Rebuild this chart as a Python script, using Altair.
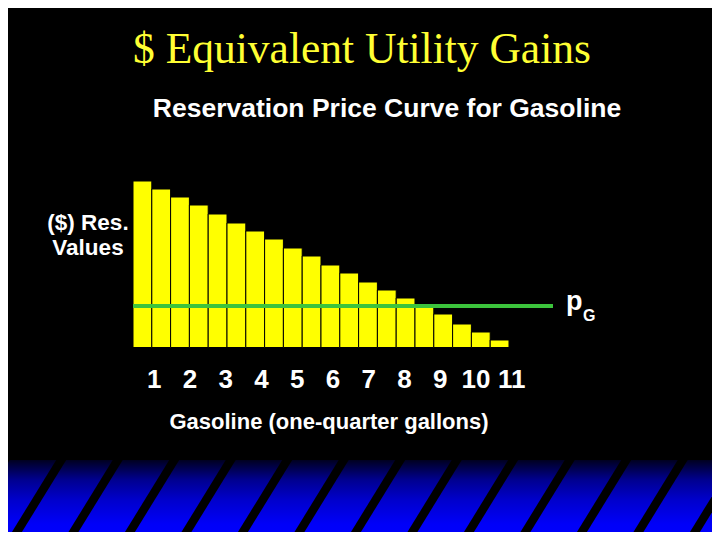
import altair as alt
import pandas as pd

# ---- data ----
res_values = [166.5, 158.5, 150.5, 142.5, 133.5, 124.5, 116.5, 108.5, 99.5, 91.5,
              82.5, 74.5, 65.5, 57.5, 49.5, 41.5, 33.5, 23.5, 15.5, 7.5]
price_g = 41.5
quantity_labels = ["1", "2", "3", "4", "5", "6", "7", "8", "9", "10", "11"]
title_text = "$ Equivalent Utility Gains"
subtitle_text = "Reservation Price Curve for Gasoline"
y_label_lines = ["($) Res.", "Values"]
x_title = "Gasoline (one-quarter gallons)"
stripe_centers = [-4.5, 52, 108.5, 165, 221.5, 278, 334.5, 391, 447.5, 504,
                  560.5, 617, 673.5, 730]

W, H = 704, 524
SANS = "Liberation Sans"
SERIF = "Liberation Serif"

one = pd.DataFrame({"a": [0]})

# ---- decorative band ----
band = alt.Chart(one).mark_rect(
    color=alt.Gradient(
        gradient="linear",
        stops=[
            alt.GradientStop(color="#000020", offset=0),
            alt.GradientStop(color="#000090", offset=0.25),
            alt.GradientStop(color="#0000cc", offset=0.5),
            alt.GradientStop(color="#0000f8", offset=0.8),
            alt.GradientStop(color="#0000ff", offset=1),
        ],
        x1=0, x2=0, y1=0, y2=1,
    )
).encode(x=alt.value(0), x2=alt.value(W), y=alt.value(452), y2=alt.value(532))

stripes = pd.DataFrame({"c": stripe_centers})
stripes["xa"] = stripes["c"] + 8.6
stripes["xb"] = stripes["c"] - 48
stripes["ya"] = 440
stripes["yb"] = 532
px = alt.Scale(domain=[0, W], nice=False, zero=False)
py = alt.Scale(domain=[0, H], nice=False, zero=False, reverse=True)
stripe_layer = alt.Chart(stripes).mark_rule(color="black", strokeWidth=8.5).encode(
    x=alt.X("xa:Q", scale=px, axis=None), x2="xb:Q",
    y=alt.Y("ya:Q", scale=py, axis=None), y2="yb:Q",
)

# ---- bars ----
bars = pd.DataFrame({"start": list(range(len(res_values))), "value": res_values})
bars["end"] = bars["start"] + 1
bar_x = alt.Scale(domain=[-6.649, 30.798], nice=False, zero=False)
bar_y = alt.Scale(domain=[-184.5, 339.5], nice=False, zero=False)

bar_layer = alt.Chart(bars).mark_bar(color="#ffff00", stroke="black", strokeWidth=1).encode(
    x=alt.X("start:Q", scale=bar_x, axis=None), x2="end:Q",
    y=alt.Y("value:Q", scale=bar_y, axis=None), y2=alt.datum(0),
)

rule_df = pd.DataFrame({"p": [price_g], "x0": [0], "x1": [22.34]})
rule_layer = alt.Chart(rule_df).mark_rule(color="#3cc43c", strokeWidth=4).encode(
    x=alt.X("x0:Q", scale=bar_x, axis=None), x2="x1:Q",
    y=alt.Y("p:Q", scale=bar_y, axis=None),
)

# ---- quantity labels ----
lab_df = pd.DataFrame({"label": quantity_labels, "k": list(range(1, len(quantity_labels) + 1))})
lab_layer = alt.Chart(lab_df).mark_text(
    font=SANS, fontSize=26, fontWeight="bold", color="white", align="center", baseline="alphabetic"
).encode(
    x=alt.X("k:Q", scale=alt.Scale(domain=[-3.086, 16.601], nice=False, zero=False), axis=None),
    y=alt.value(380),
    text="label:N",
)


def note(text, x, y, size, font=SANS, color="white", align="center", weight="bold"):
    return alt.Chart(one).mark_text(
        text=text, font=font, fontSize=size, fontWeight=weight, color=color,
        align=align, baseline="alphabetic",
    ).encode(x=alt.value(x), y=alt.value(y))


texts = [
    note(title_text, 354, 55, 43.5, font=SERIF, color="#ffff33", weight="normal"),
    note(subtitle_text, 379, 109, 26.5),
    note(y_label_lines[0], 80, 222, 22.5),
    note(y_label_lines[1], 80, 247, 22.5),
    note("p", 558, 302, 27, align="left"),
    note("G", 575, 313, 16, align="left"),
    note(x_title, 321, 421, 22),
]

chart = alt.layer(
    band, stripe_layer, bar_layer, rule_layer, lab_layer, *texts
).resolve_scale(x="independent", y="independent").properties(
    width=W, height=H, background="black", padding=0,
    autosize=alt.AutoSizeParams(type="none"),
).configure_view(strokeWidth=0)

chart.save("out.html", embed_options={"renderer": "svg", "actions": False})
